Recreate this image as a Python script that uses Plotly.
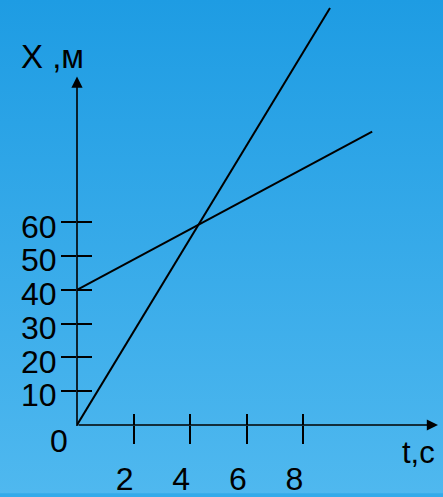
import base64
import plotly.graph_objects as go

# Coordinate of two bodies over time: X (m) vs t (s)
t_fast = [0, 8.94]
x_fast = [0, 123.5]
t_slow = [0, 10.43]
x_slow = [40, 86.9]

t_ticks = [2, 4, 6, 8]
t_tick_text = ["2", "4", "6", "8"]
x_ticks = [10, 20, 30, 40, 50, 60]
x_tick_text = ["10", "20", "30", "40", "50", "60"]

W, H = 443, 497
L, B = 77, 69
PX_PER_S = 28.3
PX_PER_M = 3.4

FONT = "Liberation Sans, Arial, sans-serif"
INK = "black"

# vertical gradient used as the page background
svg = (
    f'<svg xmlns="http://www.w3.org/2000/svg" width="{W}" height="{H}">'
    '<defs><linearGradient id="g" x1="0" y1="0" x2="0" y2="1">'
    '<stop offset="0" stop-color="#1e9ce3"/>'
    '<stop offset="1" stop-color="#4fb8ef"/>'
    '</linearGradient></defs>'
    f'<rect width="{W}" height="{H}" fill="url(#g)"/></svg>'
)
bg_uri = "data:image/svg+xml;base64," + base64.b64encode(svg.encode()).decode()

plot_w = W - L
plot_h = H - B


def px(xp):
    return (xp - L) / plot_w


def py(yp):
    return (plot_h - yp) / plot_h


fig = go.Figure()
fig.add_trace(go.Scatter(x=t_fast, y=x_fast, mode="lines",
                         line=dict(color=INK, width=2),
                         hoverinfo="skip", showlegend=False))
fig.add_trace(go.Scatter(x=t_slow, y=x_slow, mode="lines",
                         line=dict(color=INK, width=2),
                         xaxis="x2", yaxis="y2",
                         hoverinfo="skip", showlegend=False))

common = dict(showgrid=False, zeroline=False, showline=False,
              tickcolor=INK, tickwidth=1.6, fixedrange=True,
              tickfont=dict(family=FONT, size=32, color=INK))

fig.update_layout(
    width=W, height=H,
    margin=dict(l=L, r=0, t=0, b=B),
    paper_bgcolor="#33aaea",
    plot_bgcolor="rgba(0,0,0,0)",
    xaxis=dict(range=[0, plot_w / PX_PER_S], tickvals=t_ticks,
               ticktext=t_tick_text, ticks="outside", ticklen=18,
               ticklabelshift=-9, ticklabelstandoff=8, **common),
    xaxis2=dict(overlaying="x", matches="x", anchor="y", ticks="inside",
                ticklen=11, tickvals=t_ticks, showticklabels=False, **common),
    yaxis=dict(range=[0, plot_h / PX_PER_M], tickvals=x_ticks,
               ticktext=x_tick_text, ticks="outside", ticklen=15,
               ticklabelshift=4, ticklabelstandoff=-2, **common),
    yaxis2=dict(overlaying="y", matches="y", anchor="x", ticks="inside",
                ticklen=15, tickvals=x_ticks, showticklabels=False, **common),
    images=[dict(source=bg_uri, xref="paper", yref="paper",
                 x=px(0), y=py(0), sizex=W / plot_w, sizey=H / plot_h,
                 xanchor="left", yanchor="top", sizing="stretch",
                 layer="below")],
)

# axes drawn as arrows
fig.add_annotation(xref="paper", yref="paper", x=px(438), y=py(plot_h),
                   ax=-(438 - L), ay=0, axref="pixel", ayref="pixel",
                   text="", showarrow=True, arrowhead=2, arrowsize=1.4,
                   arrowwidth=1.6, arrowcolor=INK, standoff=0, startstandoff=0)
fig.add_annotation(xref="paper", yref="paper", x=px(L), y=py(77),
                   ax=0, ay=plot_h - 77, axref="pixel", ayref="pixel",
                   text="", showarrow=True, arrowhead=2, arrowsize=1.4,
                   arrowwidth=1.6, arrowcolor=INK, standoff=0, startstandoff=0)

fig.add_annotation(xref="paper", yref="paper", x=px(52), y=py(57),
                   text="X ,м", showarrow=False,
                   font=dict(family=FONT, size=33, color=INK),
                   xanchor="center", yanchor="middle")
fig.add_annotation(xref="paper", yref="paper", x=px(418), y=py(456),
                   text="t,c", showarrow=False,
                   font=dict(family=FONT, size=31, color=INK),
                   xanchor="center", yanchor="middle")
fig.add_annotation(xref="paper", yref="paper", x=px(59), y=py(444),
                   text="0", showarrow=False,
                   font=dict(family=FONT, size=32, color=INK),
                   xanchor="center", yanchor="middle")

fig.write_html("out.html", config={"displayModeBar": False})
